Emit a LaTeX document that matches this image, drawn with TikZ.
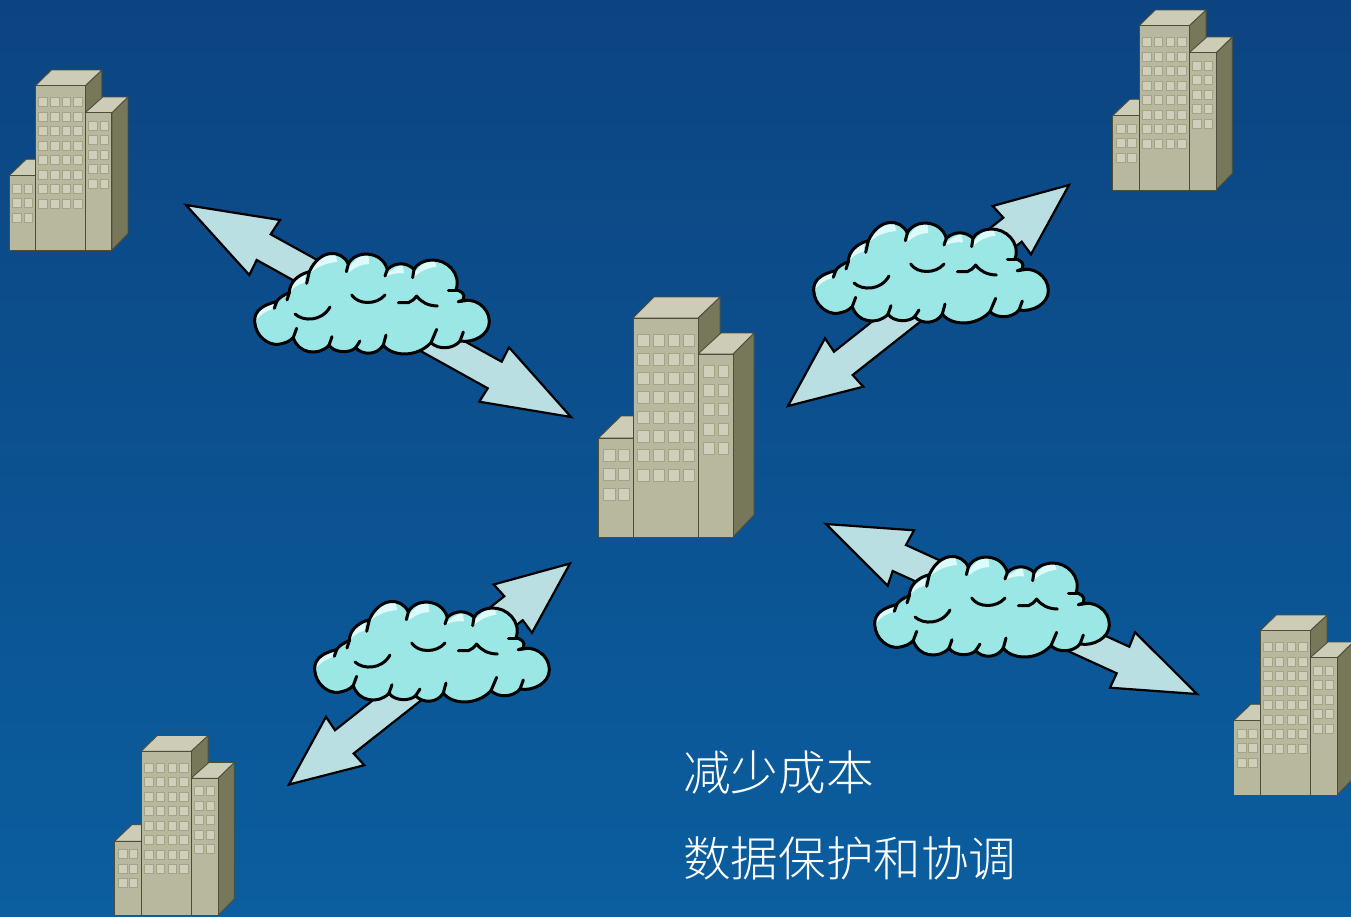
\documentclass[tikz,border=0pt]{standalone}
\usepackage{fontspec}
\newfontfamily\cjk{Noto Sans CJK SC Light}
\definecolor{bgtop}{HTML}{0C4481}
\definecolor{bgbot}{HTML}{0B5E9F}
\definecolor{arrowfill}{HTML}{BADFE3}
\definecolor{cloudfill}{HTML}{9BE7E6}
\definecolor{cloudhi}{HTML}{DDFBFB}
\definecolor{wallc}{HTML}{B8B89E}
\definecolor{roofc}{HTML}{CDCCB6}
\definecolor{sidec}{HTML}{77775A}
\definecolor{edgec}{HTML}{4D4D3A}
\definecolor{winc}{HTML}{CFCFBB}
\definecolor{winb}{HTML}{A3A385}
\tikzset{
  blockarrow/.style={draw=black,fill=arrowfill,line width=2.2pt,miter limit=10,line join=miter},
  cloudline/.style={draw=black,line width=3pt,line cap=round,line join=round},
  wall/.style={draw=edgec,line width=0.9pt,fill=wallc,line join=round},
  roof/.style={draw=edgec,line width=0.9pt,fill=roofc,line join=round},
  side/.style={draw=edgec,line width=0.9pt,fill=sidec,line join=round},
  win/.style={draw=winb,line width=1pt,fill=winc}
}
% building: bottom-left corner shift, x and y scale; coordinates relative to (598.5,537)
\newcommand{\buildingpic}[4]{%
\begin{scope}[shift={(#1,#2)},xscale=#3,yscale=#4]
  \path[roof] (0,-99) -- (22.5,-121) -- (60,-121) -- (34.5,-99) -- cycle;
  \path[wall] (0,0) rectangle (34.5,-99);
  \foreach \r in {0,1,2}{
    \path[win] (5,-88+\r*19.5-0) rectangle ++(11.5,12);
    \path[win] (20,-88+\r*19.5-0) rectangle ++(10.5,12);}
  \path[side] (99.5,-219) -- (121.5,-240) -- (121.5,-190) -- (99.5,-170) -- cycle;
  \path[roof] (34.5,-219) -- (55.5,-240) -- (121.5,-240) -- (99.5,-219) -- cycle;
  \path[wall] (34.5,0) rectangle (99.5,-219);
  \foreach \r in {0,...,7}{
    \path[win] (38.5,-203+\r*19.3) rectangle ++(12,12);
    \path[win] (54.5,-203+\r*19.3) rectangle ++(11,12);
    \path[win] (69.5,-203+\r*19.3) rectangle ++(11.5,12);
    \path[win] (84.5,-203+\r*19.3) rectangle ++(11,12);}
  \path[side] (134.5,-183) -- (155.5,-204) -- (155.5,-22) -- (134.5,0) -- cycle;
  \path[roof] (99.5,-183) -- (122.5,-204) -- (155.5,-204) -- (134.5,-183) -- cycle;
  \path[wall] (99.5,0) rectangle (134.5,-183);
  \foreach \r in {0,1,2,3,4}{
    \path[win] (104.5,-172+\r*19.4) rectangle ++(11,12);
    \path[win] (119.5,-172+\r*19.4) rectangle ++(10.5,12);}
\end{scope}}
% cloud outline in 3x units
\newcommand{\cloudoutline}{%
  (110,185) .. controls (65,195) and (42,215) .. (44,245)
  .. controls (47,290) and (85,316) .. (115,313)
  .. controls (135,310) and (150,304) .. (160,292)
  .. controls (172,340) and (235,350) .. (267,316)
  .. controls (285,340) and (330,340) .. (347,323)
  .. controls (365,345) and (410,348) .. (430,315)
  .. controls (455,350) and (530,354) .. (573,308)
  .. controls (595,330) and (640,328) .. (660,303)
  .. controls (700,310) and (748,285) .. (748,245)
  .. controls (748,200) and (700,168) .. (655,185)
  .. controls (685,182) and (672,152) .. (648,150)
  .. controls (665,100) and (620,58) .. (575,60)
  .. controls (550,62) and (530,72) .. (522,88)
  .. controls (500,66) and (465,66) .. (442,88)
  .. controls (425,30) and (345,30) .. (325,72)
  .. controls (305,28) and (240,25) .. (208,95)
  .. controls (170,105) and (148,130) .. (148,158)
  .. controls (130,165) and (115,175) .. (110,185) -- cycle}
\newcommand{\cloudpic}[2]{%
\begin{scope}[shift={(240+#1,240+#2)},scale=1/3]
  \path[fill=cloudfill] \cloudoutline;
  \begin{scope}
    \clip \cloudoutline;
    \fill[cloudhi] (40,240) .. controls (60,190) and (90,180) .. (103,180) -- (97,208) .. controls (80,212) and (65,222) .. (50,238) -- cycle;
    \fill[cloudhi] (145,165) .. controls (150,125) and (180,100) .. (197,100) -- (194,128) .. controls (175,132) and (160,142) .. (148,160) -- cycle;
    \fill[cloudhi] (203,105) .. controls (225,50) and (270,35) .. (285,40) -- (292,66) .. controls (260,68) and (225,82) .. (205,105) -- cycle;
    \fill[cloudhi] (325,88) .. controls (345,50) and (375,40) .. (385,45) -- (388,72) .. controls (365,72) and (345,82) .. (328,96) -- cycle;
    \fill[cloudhi] (438,105) .. controls (460,85) and (480,75) .. (488,75) -- (492,100) .. controls (470,98) and (455,102) .. (440,108) -- cycle;
    \fill[cloudhi] (522,100) .. controls (545,70) and (570,58) .. (582,58) -- (590,80) .. controls (565,83) and (540,93) .. (522,112) -- cycle;
  \end{scope}
  \path[cloudline] \cloudoutline;
  \path[cloudline] (160,292) -- (170,265);
  \path[cloudline] (267,316) -- (276,290);
  \path[cloudline] (347,323) -- (360,303);
  \path[cloudline] (430,315) -- (438,285);
  \path[cloudline] (573,308) -- (590,268);
  \path[cloudline] (660,303) -- (670,276);
  \path[cloudline] (655,185) -- (682,181);
  \path[cloudline] (648,150) -- (625,150);
  \path[cloudline] (522,88) -- (518,113);
  \path[cloudline] (442,88) -- (435,108);
  \path[cloudline] (325,72) -- (319,95);
  \path[cloudline] (208,95) -- (200,130);
  \path[cloudline] (148,158) -- (141,180);
  \path[cloudline] (110,185) -- (103,205);
  \path[cloudline] (165,222) .. controls (190,245) and (245,245) .. (270,201);
  \path[cloudline] (335,165) .. controls (355,195) and (410,195) .. (435,165);
  \path[cloudline] (475,188) -- (505,188) .. controls (515,185) and (522,178) .. (530,168) .. controls (545,188) and (565,197) .. (592,198);
\end{scope}}
\begin{document}
\begin{tikzpicture}[x=1pt,y=-1pt]
\useasboundingbox (0,0) rectangle (1351,916);
\clip (0,0) rectangle (1351,916);
\shade[top color=bgtop,bottom color=bgbot] (0,0) rectangle (1351,916);
% buildings
\buildingpic{598.5}{537}{1}{1}
\buildingpic{9}{250}{0.765}{0.75}
\buildingpic{1112.5}{190}{0.77}{0.75}
\buildingpic{114.5}{915.5}{0.77}{0.75}
\buildingpic{1233.5}{795}{0.77}{0.75}
% block arrows
\path[blockarrow] (186,205) -- (280,220) -- (270.7,234.3) -- (501.7,361.7) -- (509,347.3) -- (571,417) -- (479.3,401.7) -- (487.7,388.3) -- (256.7,260) -- (249.3,275) -- cycle;
\path[blockarrow] (1069,185) -- (992.7,206) -- (1003.3,217.7) -- (834,351.7) -- (825,338.3) -- (788,406) -- (863.3,386.7) -- (852.7,375) -- (1021.7,241.7) -- (1031,254.3) -- cycle;
\begin{scope}[shift={(-499,378.5)}]
\path[blockarrow] (1069,185) -- (992.7,206) -- (1003.3,217.7) -- (834,351.7) -- (825,338.3) -- (788,406) -- (863.3,386.7) -- (852.7,375) -- (1021.7,241.7) -- (1031,254.3) -- cycle;
\end{scope}
\path[blockarrow] (826,524) -- (914,530.3) -- (906,545) -- (1129.3,646.7) -- (1135,632.3) -- (1197,694) -- (1110,687.7) -- (1116.7,673.3) -- (892.7,571) -- (887.7,585.7) -- cycle;
% clouds
\cloudpic{0}{0}
\cloudpic{559}{-31}
\cloudpic{60}{348}
\cloudpic{620}{303}
% text
\node[anchor=west,inner sep=0pt,text=white,font=\cjk\fontsize{47.6}{50}\selectfont] (t1) at (683,772) {减少成本};
\node[anchor=west,inner sep=0pt,text=white,font=\cjk\fontsize{47.6}{50}\selectfont] (t2) at (683,858) {数据保护和协调};
\end{tikzpicture}
\end{document}
